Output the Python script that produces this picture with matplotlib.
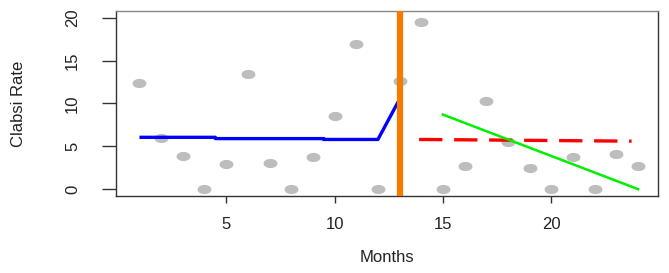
import numpy as np
import matplotlib
matplotlib.use('Agg')
import matplotlib.pyplot as plt
from matplotlib.path import Path

# monthly rates
months = list(range(1, 25))
rates = [12.4, 6.0, 3.9, 0, 2.9, 13.4, 3.1, 0, 3.8, 8.5, 16.9, 0,
         12.6, 19.5, 0, 2.7, 10.3, 5.5, 2.5, 0, 3.8, 0, 4.1, 2.7]

# pre-intervention fit
pre_x = [1, 4.5, 4.5, 9.5, 9.5, 12, 13]
pre_y = [6.05, 6.05, 5.9, 5.9, 5.8, 5.8, 10.5]

# post-intervention mean (dashed) and trend
mean_x = [13.9, 23.7]
mean_y = [5.8, 5.6]
trend_x = [15, 24]
trend_y = [8.7, 0.0]

break_month = 13

plt.rcParams['font.family'] = ['Liberation Sans', 'DejaVu Sans']

fig = plt.figure(figsize=(6.69, 2.73), dpi=100)
ax = fig.add_axes([0.1734, 0.282, 0.8102, 0.678])

# slightly flattened dot like the original
t = np.linspace(0, 2 * np.pi, 40)
ell = Path(np.column_stack([np.cos(t), 0.62 * np.sin(t)]))

ax.plot(months, rates, linestyle='none', marker=ell, markersize=9,
        color='#bdbdbd', zorder=2)
ax.plot(pre_x, pre_y, color='#0000ff', lw=2.4, zorder=3, solid_capstyle='butt')
ax.axvline(break_month, color='#f57c00', lw=4.5, zorder=4)
ax.plot(mean_x, mean_y, color='#ff0000', lw=2.4, dashes=(7, 3.5), zorder=3)
ax.plot(trend_x, trend_y, color='#00ee00', lw=1.8, zorder=3)

ax.set_xlim(-0.08, 24.92)
ax.set_ylim(-0.8, 20.8)
ax.set_xticks([5, 10, 15, 20])
ax.set_yticks([0, 5, 10, 15, 20])

for s in ax.spines.values():
    s.set_color('#333333')
    s.set_linewidth(1.0)
ax.spines['top'].set_color('#888888')

ax.tick_params(axis='x', length=5, width=1, color='#333333', labelsize=12,
               pad=10, labelcolor='#222222')
ax.tick_params(axis='y', length=10, width=1, color='#333333', labelsize=12,
               pad=16, labelcolor='#222222')
for lab in ax.get_yticklabels():
    lab.set_rotation(90)
    lab.set_va('center')

ax.set_xlabel('Months', fontsize=12, color='#222222', labelpad=13)
ax.set_ylabel('Clabsi Rate', fontsize=12, color='#222222', labelpad=28)

fig.savefig('out.png', dpi=100)
